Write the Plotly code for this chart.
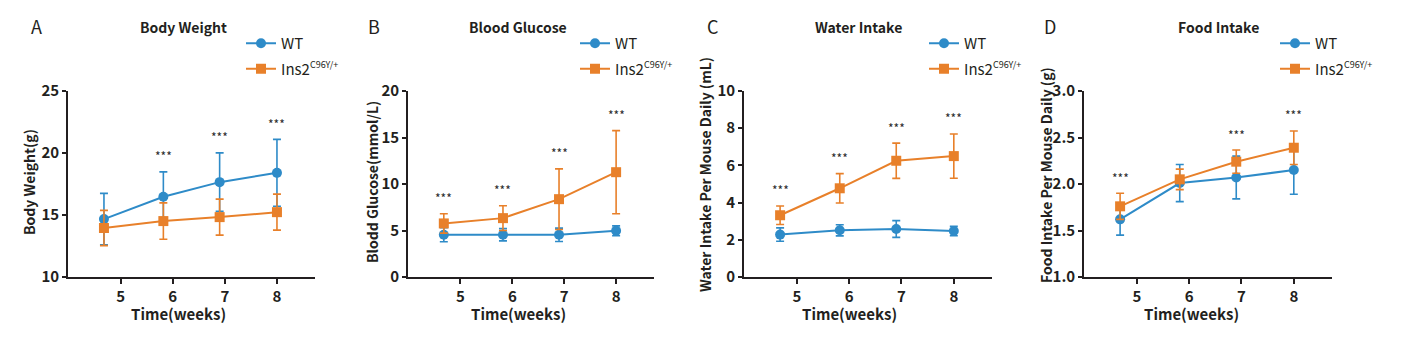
import plotly.graph_objects as go

# ---- data -------------------------------------------------------------
weeks = [5, 6, 7, 8]                       # tick labels on the time axis
week_pos = [4.68, 5.82, 6.9, 8.0]          # where each time point is plotted

bw_wt = [14.67, 16.47, 17.65, 18.40]
bw_wt_sd = [2.07, 2.01, 2.36, 2.70]
bw_ko = [13.95, 14.51, 14.83, 15.23]
bw_ko_sd = [1.42, 1.47, 1.45, 1.45]
bw_sig = ["", "***", "***", "***"]

bg_wt = [4.54, 4.54, 4.54, 4.97]
bg_wt_sd = [0.75, 0.66, 0.72, 0.53]
bg_ko = [5.76, 6.33, 8.37, 11.27]
bg_ko_sd = [1.04, 1.33, 3.26, 4.47]
bg_sig = ["***", "***", "***", "***"]

wi_wt = [2.28, 2.51, 2.58, 2.47]
wi_wt_sd = [0.36, 0.30, 0.45, 0.25]
wi_ko = [3.32, 4.77, 6.25, 6.50]
wi_ko_sd = [0.50, 0.79, 0.95, 1.19]
wi_sig = ["***", "***", "***", "***"]

fi_wt = [1.62, 2.01, 2.07, 2.15]
fi_wt_sd = [0.17, 0.20, 0.23, 0.26]
fi_ko = [1.76, 2.05, 2.24, 2.39]
fi_ko_sd = [0.14, 0.11, 0.125, 0.18]
fi_sig = ["***", "", "***", "***"]

# ---- styling ----------------------------------------------------------
W, H = 1404, 340
BLUE = "#2E8BC8"
ORANGE = "#E8802A"
INK = "#231F20"
FONT = "Noto Sans CJK SC, Source Sans Pro, Open Sans, sans-serif"

panels = [
    dict(letter="A", title="Body Weight", ytitle="Body Weight(g)",
         wt=bw_wt, wt_sd=bw_wt_sd, ko=bw_ko, ko_sd=bw_ko_sd, sig=bw_sig,
         yrange=[10, 25], ytick=[10, 15, 20, 25], yfmt="d",
         x0=68, x1=315, letter_x=36, title_x=183, xt_x=178, yt_x=29, yt_y=182, leg_x=241),
    dict(letter="B", title="Blood Glucose", ytitle="Blodd Glucose(mmol/L)",
         wt=bg_wt, wt_sd=bg_wt_sd, ko=bg_ko, ko_sd=bg_ko_sd, sig=bg_sig,
         yrange=[0, 20], ytick=[0, 5, 10, 15, 20], yfmt="d",
         x0=408, x1=654, letter_x=374, title_x=518, xt_x=518, yt_x=372, yt_y=182, leg_x=575),
    dict(letter="C", title="Water Intake", ytitle="Water Intake Per Mouse Daily (mL)",
         wt=wi_wt, wt_sd=wi_wt_sd, ko=wi_ko, ko_sd=wi_ko_sd, sig=wi_sig,
         yrange=[0, 10], ytick=[0, 2, 4, 6, 8, 10], yfmt="d",
         x0=744, x1=992, letter_x=712, title_x=858, xt_x=849, yt_x=705, yt_y=175, leg_x=924),
    dict(letter="D", title="Food Intake", ytitle="Food Intake Per Mouse Daily (g)",
         wt=fi_wt, wt_sd=fi_wt_sd, ko=fi_ko, ko_sd=fi_ko_sd, sig=fi_sig,
         yrange=[1.0, 3.0], ytick=[1.0, 1.5, 2.0, 2.5, 3.0], yfmt=".1f",
         x0=1084, x1=1332, letter_x=1050, title_x=1218, xt_x=1191, yt_x=1046, yt_y=175, leg_x=1275),
]

PLOT_TOP, PLOT_BOTTOM = 91, 277   # pixel rows of the plotting area

MUTANT = "Ins2<sup><span style='font-size:9px'>C96Y/+</span></sup>"


def px_x(v):
    return v / W


def px_y(v):
    return 1 - v / H


fig = go.Figure()
annotations = []

for i, p in enumerate(panels):
    n = "" if i == 0 else str(i + 1)
    xa, ya = "x" + n, "y" + n
    leg = "legend" + n

    for name, vals, sd, color, symbol, size in [
        ("WT", p["wt"], p["wt_sd"], BLUE, "circle", 10),
        (MUTANT, p["ko"], p["ko_sd"], ORANGE, "square", 10),
    ]:
        fig.add_trace(go.Scatter(
            x=week_pos, y=vals, name=name, mode="lines+markers",
            xaxis=xa, yaxis=ya, legend=leg, legendgroup=name + n,
            line=dict(color=color, width=2),
            marker=dict(color=color, symbol=symbol, size=size),
            error_y=dict(type="data", array=sd, visible=True,
                         color=color, thickness=1.6, width=4),
            cliponaxis=False, hoverinfo="skip",
        ))

    # significance marks above the highest error bar at each time point
    for xp, s, a, sa, b, sb in zip(week_pos, p["sig"], p["wt"], p["wt_sd"], p["ko"], p["ko_sd"]):
        if s:
            annotations.append(dict(
                x=xp, y=max(a + sa, b + sb), xref=xa, yref=ya, text=s,
                showarrow=False, yshift=16, yanchor="middle",
                font=dict(size=12, color="#2a2a2a", family=FONT)))

    axis_common = dict(
        showline=True, linecolor=INK, linewidth=1.6, ticks="outside",
        tickcolor=INK, tickwidth=1.6, showgrid=False, zeroline=False,
        automargin=False,
        tickfont=dict(family=FONT, size=15, color=INK, weight="bold"),
    )
    fig.update_layout({
        "xaxis" + n: dict(domain=[px_x(p["x0"]), px_x(p["x1"])], range=[3.99, 8.73],
                          tickvals=weeks, ticktext=[str(w) for w in weeks], ticklen=5,
                          anchor=ya, **axis_common),
        "yaxis" + n: dict(domain=[px_y(PLOT_BOTTOM), px_y(PLOT_TOP)], range=p["yrange"],
                          tickvals=p["ytick"], tickformat=p["yfmt"], ticklen=4,
                          anchor=xa, **axis_common),
        leg: dict(x=px_x(p["leg_x"]), y=px_y(27), xanchor="left", yanchor="top",
                  font=dict(family=FONT, size=15, color=INK), bgcolor="rgba(0,0,0,0)",
                  tracegroupgap=3, itemwidth=30),
    })

    annotations += [
        dict(x=px_x(p["letter_x"]), y=px_y(26), xref="paper", yref="paper", text=p["letter"],
             showarrow=False, xanchor="center", yanchor="middle",
             font=dict(family=FONT, size=18, color=INK)),
        dict(x=px_x(p["title_x"]), y=px_y(27), xref="paper", yref="paper", text=p["title"],
             showarrow=False, xanchor="center", yanchor="middle",
             font=dict(family=FONT, size=14, color=INK, weight="bold")),
        dict(x=px_x(p["xt_x"]), y=px_y(313), xref="paper", yref="paper", text="Time(weeks)",
             showarrow=False, xanchor="center", yanchor="middle",
             font=dict(family=FONT, size=15, color=INK, weight="bold")),
        dict(x=px_x(p["yt_x"]), y=px_y(p["yt_y"]), xref="paper", yref="paper", text=p["ytitle"],
             showarrow=False, xanchor="center", yanchor="middle", textangle=-90,
             font=dict(family=FONT, size=14, color=INK, weight="bold")),
    ]

fig.update_layout(
    template="none",
    width=W, height=H, margin=dict(l=0, r=0, t=0, b=0, autoexpand=False),
    paper_bgcolor="white", plot_bgcolor="white",
    font=dict(family=FONT, color=INK),
    annotations=annotations, showlegend=True,
)

fig.write_html("out.html")
